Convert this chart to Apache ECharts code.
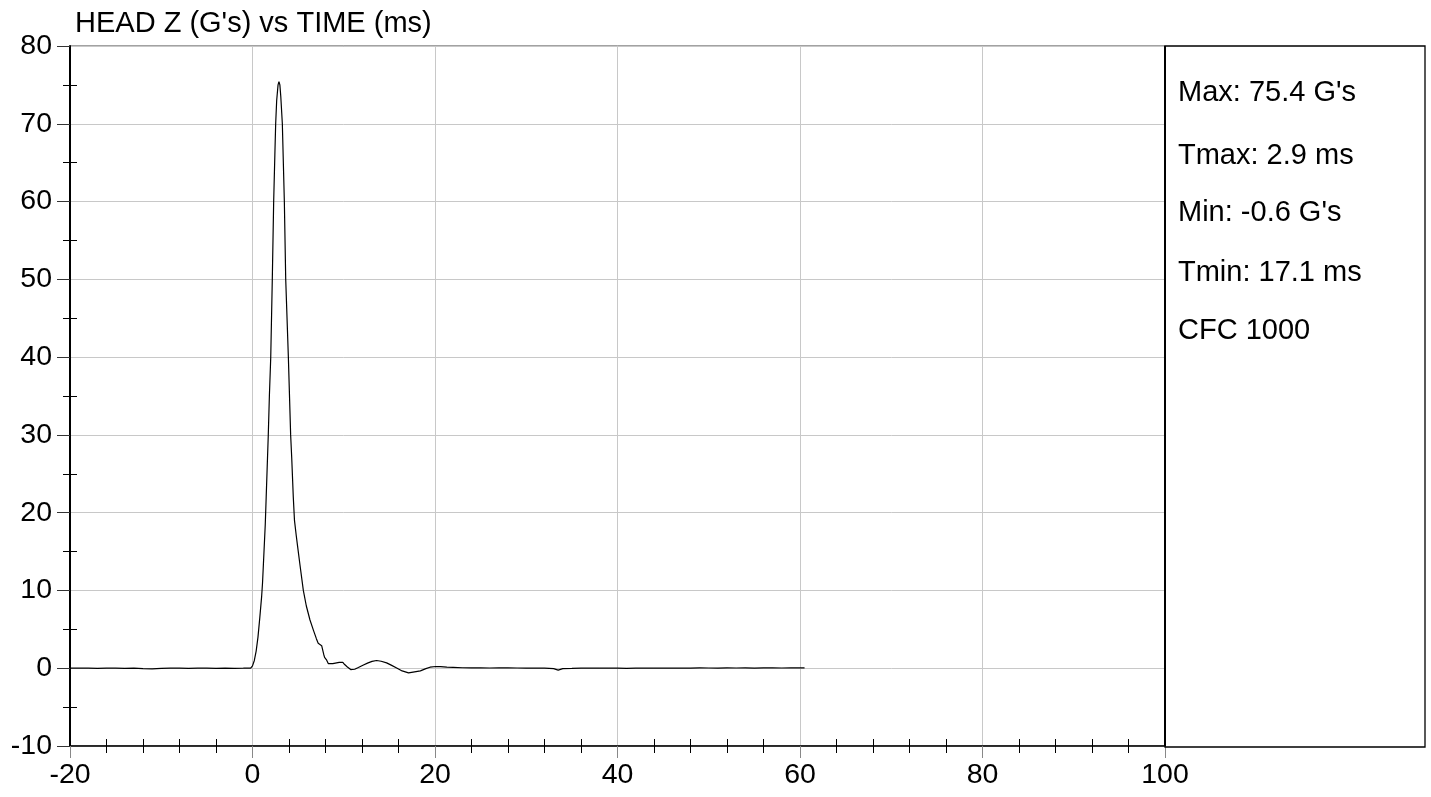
<!DOCTYPE html>
<html>
<head>
<meta charset="utf-8">
<script src="https://cdn.jsdelivr.net/npm/echarts@6/dist/echarts.min.js"></script>
<style>
html,body{margin:0;padding:0;background:#fff;}
#chart{width:1431px;height:797px;}
</style>
</head>
<body>
<div id="chart"></div>
<script>
var titleText = "HEAD Z (G's) vs TIME (ms)";
var statsLines = ["Max: 75.4 G's", "Tmax: 2.9 ms", "Min: -0.6 G's", "Tmin: 17.1 ms", "CFC 1000"];

var timeMs = [
 -20,-19,-18,-17,-16,-15,-14,-13,-12,-11,-10,-9,-8,-7,-6,-5,-4,-3,-2,-1,-0.5,-0.2,
 0,0.2,0.4,0.6,0.8,1.0,1.1,1.2,1.4,1.5,1.6,1.73,1.85,2.0,2.17,2.32,2.45,2.54,2.65,2.8,2.9,3.0,3.1,3.27,3.49,3.64,3.93,4.18,4.3,4.47,4.6,4.8,4.95,5.2,5.57,5.9,6.3,6.7,7.0,7.2,7.4,7.58,7.7,7.8,7.9,8.13,8.3,8.49,8.8,9.22,9.5,9.7,9.9,10.1,10.4,10.76,11.2,11.6,12.1,12.6,13.1,13.6,14.1,14.7,15.2,15.8,16.4,17.1,17.6,18.4,19.0,19.45,20.1,20.6,21.3,
 22,23,24,25,26,27,28,29,30,31,32,33,33.5,34,35,36,37,38,39,40,41,42,43,44,45,46,47,48,49,50,51,52,53,54,55,56,57,58,59,60,60.5
];
var headZ = [
 0.0,0.02,0.0,-0.03,0.02,0.0,-0.02,0.01,-0.04,-0.08,-0.03,0.01,0.0,-0.02,0.02,0.0,-0.03,0.01,-0.02,0.0,0.02,0.0,
 0.3,1.0,2.2,4.0,6.5,9.2,11,13.5,18.5,22,25.5,30,35,40,50,60,66,70,73,75,75.4,75.0,73.5,70,60,50,40,30,27,22,19,17,15.6,13.3,10,8,6.2,4.8,3.8,3.2,3.0,2.9,2.8,1.8,1.4,1.03,0.6,0.47,0.6,0.69,0.75,0.95,0.75,0.47,0.15,-0.17,-0.13,0.1,0.39,0.65,0.88,0.99,0.9,0.69,0.4,0.04,-0.35,-0.6,-0.5,-0.34,-0.05,0.13,0.22,0.2,0.13,
 0.1,0.06,0.05,0.06,0.03,0.04,0.05,0.03,0.02,0.0,0.02,-0.05,-0.25,-0.05,-0.03,0.0,0.02,0.01,0.0,0.0,-0.02,0.0,0.02,0.01,0.0,0.02,0.03,0.02,0.04,0.03,0.02,0.04,0.03,0.05,0.02,0.04,0.06,0.03,0.05,0.04,0.05
];
var xTicks = {min: -20, max: 100, step: 20};
var yTicks = {min: -10, max: 80, step: 10};

var points = timeMs.map(function (t, i) { return [t, headZ[i]]; });
var FONT = '"Liberation Sans", Arial, sans-serif';

var chart = echarts.init(document.getElementById('chart'), null, {renderer: 'canvas'});

var GL = 70, GR = 1165, GT = 46, GB = 746;

var statGraphics = [];
var statY = [93, 156, 213, 273, 331];
statsLines.forEach(function (s, i) {
  statGraphics.push({
    type: 'text', x: 1178, y: statY[i],
    style: {text: s, font: '29px ' + FONT, fill: '#000', verticalAlign: 'middle', align: 'left'}
  });
});

chart.setOption({
  animation: false,
  backgroundColor: '#fff',
  grid: {
    left: GL, right: 1431 - GR, top: GT, bottom: 797 - GB,
    show: true, borderColor: '#444', borderWidth: 1, backgroundColor: 'transparent'
  },
  xAxis: [{
    type: 'value', position: 'bottom', min: xTicks.min, max: xTicks.max, interval: xTicks.step,
    axisLine: {show: true, onZero: false, lineStyle: {color: '#000', width: 1.5}},
    axisTick: {show: true, length: 12, lineStyle: {color: '#888', width: 1}},
    minorTick: {show: true, splitNumber: 5, length: 7, lineStyle: {color: '#000', width: 1}},
    splitLine: {show: true, lineStyle: {color: '#c8c8c8', width: 1}},
    axisLabel: {fontFamily: FONT, fontSize: 28.5, color: '#000', margin: 15}
  }, {
    type: 'value', position: 'bottom', offset: 0, min: xTicks.min, max: xTicks.max, interval: xTicks.step,
    axisLine: {show: false, onZero: false},
    axisTick: {show: false, inside: true},
    minorTick: {show: true, splitNumber: 5, length: 7, lineStyle: {color: '#000', width: 1}},
    splitLine: {show: false},
    axisLabel: {show: false}
  }],
  yAxis: [{
    type: 'value', position: 'left', min: yTicks.min, max: yTicks.max, interval: yTicks.step,
    axisLine: {show: true, onZero: false, lineStyle: {color: '#000', width: 2}},
    axisTick: {show: true, length: 13, lineStyle: {color: '#333', width: 1}},
    minorTick: {show: true, splitNumber: 2, length: 7, lineStyle: {color: '#000', width: 1}},
    splitLine: {show: true, lineStyle: {color: '#c8c8c8', width: 1}},
    axisLabel: {fontFamily: FONT, fontSize: 28.5, color: '#000', margin: 18}
  }, {
    type: 'value', position: 'left', offset: 0, min: yTicks.min, max: yTicks.max, interval: yTicks.step,
    axisLine: {show: false, onZero: false},
    axisTick: {show: false, inside: true},
    minorTick: {show: true, splitNumber: 2, length: 7, lineStyle: {color: '#000', width: 1}},
    splitLine: {show: false},
    axisLabel: {show: false}
  }],
  series: [{
    type: 'line', xAxisIndex: 0, yAxisIndex: 0, data: points,
    showSymbol: false, symbol: 'none', smooth: false,
    lineStyle: {color: '#000', width: 1.2}
  }],
  graphic: [{
    type: 'text', x: 75, y: 24,
    style: {text: titleText, font: '29px ' + FONT, fill: '#000', verticalAlign: 'middle', align: 'left'}
  }, {
    type: 'rect', shape: {x: GR, y: GT, width: 1425 - GR, height: 747 - GT},
    style: {fill: 'none', stroke: '#000', lineWidth: 1.3}, z: 100
  }, {
    type: 'line', shape: {x1: GR, y1: GT, x2: GR, y2: GB},
    style: {stroke: '#000', lineWidth: 2}, z: 101
  }].concat(statGraphics)
});
</script>
</body>
</html>
